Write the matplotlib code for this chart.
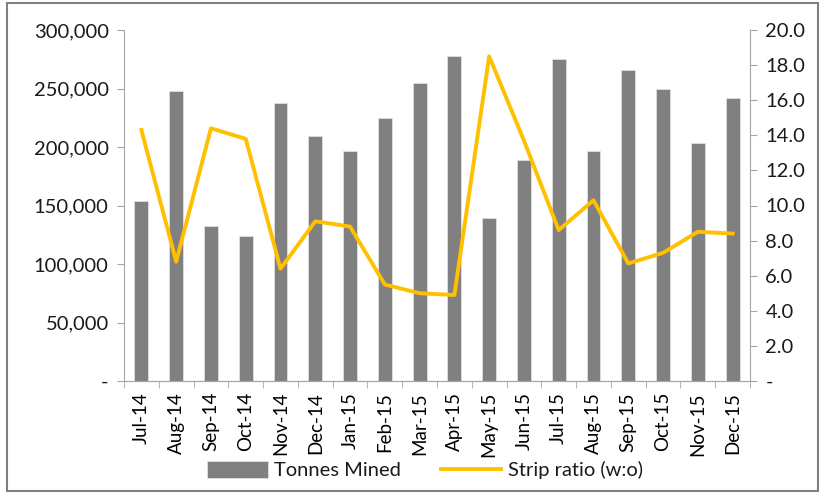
import matplotlib.pyplot as plt
import numpy as np
from matplotlib.ticker import FuncFormatter

months = ["Jul-14", "Aug-14", "Sep-14", "Oct-14", "Nov-14", "Dec-14", "Jan-15", "Feb-15", "Mar-15",
          "Apr-15", "May-15", "Jun-15", "Jul-15", "Aug-15", "Sep-15", "Oct-15", "Nov-15", "Dec-15"]
tonnes = [153500, 248000, 132500, 124000, 238000, 209000, 197000, 225000, 254500,
          277500, 139000, 189000, 275500, 197000, 266000, 250000, 203500, 242000]
strip = [14.3, 6.8, 14.4, 13.8, 6.4, 9.1, 8.8, 5.5, 5.0,
         4.9, 18.5, 13.7, 8.6, 10.3, 6.7, 7.3, 8.5, 8.4]

plt.rcParams['font.family'] = ['Lato', 'DejaVu Sans']
fig = plt.figure(figsize=(8.25, 4.96), dpi=100)
ax = fig.add_axes([124/825, 1-381/496, (750-124)/825, (381-30)/496])

x = np.arange(len(months))
bars = ax.bar(x, tonnes, width=0.4, color="#808080", edgecolor="#e0e0e0", linewidth=0.6,
              label="Tonnes Mined", zorder=2)
ax.set_xlim(-0.5, len(months) - 0.5)
ax.set_ylim(0, 300000)
ax.set_yticks(np.arange(0, 300001, 50000))
ax.yaxis.set_major_formatter(FuncFormatter(lambda v, p: "-" if v == 0 else f"{int(v):,}"))
ax.set_xticks(x)
ax.set_xticklabels(months, rotation=90)
ax.set_xticks(np.arange(-0.5, len(months), 1), minor=True)
ax.tick_params(axis="x", which="major", length=0, pad=8, labelsize=13.5, labelcolor="#000000")
ax.tick_params(axis="x", which="minor", length=5, color="#a6a6a6")
ax.tick_params(axis="y", length=5, color="#a6a6a6", labelsize=14.5, pad=6, labelcolor="#1a1a1a")

ax2 = ax.twinx()
line, = ax2.plot(x, strip, color="#FFC000", linewidth=2.8, label="Strip ratio (w:o)", zorder=3)
ax2.set_ylim(0, 20)
ax2.set_yticks(np.arange(0, 20.1, 2))
ax2.yaxis.set_major_formatter(FuncFormatter(lambda v, p: "-" if v == 0 else f"{v:.1f}"))
ax2.tick_params(axis="y", length=5, color="#a6a6a6", labelsize=14.5, pad=6, labelcolor="#1a1a1a")

for a in (ax, ax2):
    a.spines["top"].set_visible(False)
    for s in ("left", "right", "bottom"):
        a.spines[s].set_color("#a6a6a6")
ax.spines["right"].set_visible(False)
ax2.spines["left"].set_visible(False)

fig.legend(handles=[bars, line], loc="center", bbox_to_anchor=(425/825, 1-470/496), ncol=2,
           frameon=False, fontsize=14.5, handlelength=3.0, handleheight=0.9,
           handletextpad=0.3, columnspacing=2.0, labelcolor="#1a1a1a")

fig.patches.append(plt.Rectangle((7/825, 5/496), 811/825, 488/496, transform=fig.transFigure,
                                 fill=False, edgecolor="#808080", linewidth=1.5))

fig.savefig("out.png", dpi=100)
